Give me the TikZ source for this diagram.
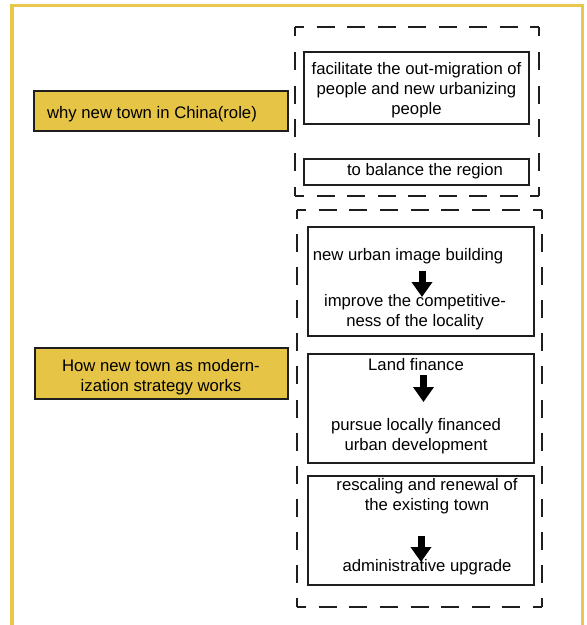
\documentclass[tikz,border=0pt]{standalone}
\usepackage{fontspec}
\setmainfont{Liberation Sans}
\usetikzlibrary{arrows.meta,calc}
\definecolor{frameyellow}{HTML}{E8C84C}
\definecolor{boxyellow}{HTML}{E5C446}
\definecolor{boxline}{HTML}{1E1E1E}
\newcommand\mydashedside[2]{%
  \draw[line width=1.6pt, draw=boxline]
    let \p1=($(#2)-(#1)$), \n1={veclen(\x1,\y1)},
        \n2={max(1,round((\n1-32)/32))},
        \n3={(\n1-18-\n2*18)/(\n2+1)} in
    [dash pattern=on 18pt off \n3, dash phase=9pt] (#1) -- (#2);}
\begin{document}
\begin{tikzpicture}[x=1pt,y=-1pt,
  every node/.style={font=\fontsize{16.7}{20}\selectfont, inner sep=0pt, outer sep=0pt},
  yellowbox/.style={draw=boxline, line width=1.5pt, fill=boxyellow, rectangle},
  whitebox/.style={draw=boxline, line width=1.5pt, fill=white, rectangle},
  groupbox/.style={draw=none, rectangle},
  bigarrow/.style={line width=7pt, -{Triangle[width=20pt,length=15pt]}},
  txt/.style={align=center}
]
\useasboundingbox (0,0) rectangle (587,625);
\fill[white] (0,0) rectangle (587,625);
% outer frame
\node[draw=frameyellow, line width=3.4pt, minimum width=570.5pt, minimum height=650pt, anchor=north west] (frame) at (12,5.7) {};

% left yellow boxes
\node[yellowbox, minimum width=254pt, minimum height=40pt] (whybox) at (161,111) {};
\node[txt] (whytext) at (152,114) {why new town in China(role)};
\node[yellowbox, minimum width=253pt, minimum height=51pt] (howbox) at (161.5,373.5) {};
\node[txt] (howtext) at (161,377) {How new town as modern-\\ization strategy works};

% group boxes (dashed)
\node[groupbox, minimum width=244pt, minimum height=169pt] (topgroup) at (417,111.5) {};
\node[groupbox, minimum width=245pt, minimum height=397pt] (botgroup) at (419.5,408.5) {};
\foreach \g in {topgroup,botgroup}{
  \mydashedside{\g.north west}{\g.north east}
  \mydashedside{\g.south west}{\g.south east}
  \mydashedside{\g.north west}{\g.south west}
  \mydashedside{\g.north east}{\g.south east}
}

% top group contents
\node[whitebox, minimum width=225pt, minimum height=72pt] (facbox) at (416.5,88) {};
\node[txt] (factext) at (416.5,90) {facilitate the out-migration of\\people and new urbanizing\\people};
\node[whitebox, minimum width=225pt, minimum height=26pt] (balbox) at (416.5,172) {};
\node[txt] (baltext) at (425,171.5) {to balance the region};

% bottom group contents
\node[whitebox, minimum width=226pt, minimum height=109pt] (box1) at (421,281.5) {};
\node[txt] (b1top) at (408,256) {new urban image building};
\node[txt] (b1bot) at (415,312.5) {improve the competitive-\\ness of the locality};
\coordinate (a1s) at (422,271);
\coordinate (a1e) at (422,297);
\draw[bigarrow] (a1s) -- (a1e);

\node[whitebox, minimum width=226pt, minimum height=109pt] (box2) at (421,408.5) {};
\node[txt] (b2top) at (416,364.5) {Land finance};
\node[txt] (b2bot) at (416,436.5) {pursue locally financed\\urban development};
\coordinate (a2s) at (423.5,375);
\coordinate (a2e) at (423.5,402);
\draw[bigarrow] (a2s) -- (a2e);

\node[whitebox, minimum width=226pt, minimum height=109pt] (box3) at (421,530.5) {};
\node[txt] (b3top) at (427,496) {rescaling and renewal of\\the existing town};
\node[txt] (b3bot) at (427,567) {administrative upgrade};
\coordinate (a3s) at (421,536);
\coordinate (a3e) at (421,562);
\draw[bigarrow] (a3s) -- (a3e);
\end{tikzpicture}
\end{document}
